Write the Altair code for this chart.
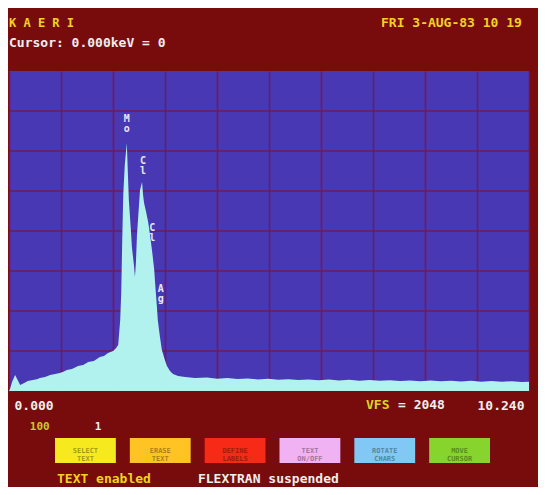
import altair as alt
import pandas as pd

# ---------------- data ----------------
energy_kev = [0.00, 0.02, 0.06, 0.12, 0.16, 0.22, 0.30, 0.37, 0.47, 0.55, 0.61, 0.71, 0.81,
              0.91, 1.00, 1.07, 1.14, 1.24, 1.36, 1.46, 1.56, 1.67, 1.79, 1.87, 1.95,
              2.05, 2.11, 2.15, 2.19, 2.21, 2.23, 2.25, 2.28, 2.32, 2.34, 2.36, 2.40,
              2.42, 2.46, 2.48, 2.50, 2.52, 2.56, 2.58, 2.62, 2.64, 2.66, 2.70, 2.74,
              2.78, 2.82, 2.86, 2.88, 2.91, 2.93, 2.97, 3.01, 3.07, 3.11, 3.17, 3.23,
              3.33, 3.47, 3.66, 3.90, 4.10, 4.30, 4.50, 4.70, 4.90, 5.10, 5.30, 5.50,
              5.70, 5.90, 6.10, 6.30, 6.50, 6.70, 6.90, 7.10, 7.30, 7.50, 7.70, 7.90,
              8.10, 8.30, 8.50, 8.70, 8.90, 9.10, 9.30, 9.50, 9.70, 9.90, 10.10, 10.24]
counts = [0, 13, 58, 102, 77, 38, 51, 64, 70, 76, 83, 90, 102,
          109, 115, 124, 134, 141, 160, 166, 186, 192, 218, 224, 243,
          256, 275, 294, 454, 627, 966, 1254, 1446, 1587, 1402, 1222, 1030,
          922, 806, 730, 826, 998, 1190, 1286, 1338, 1254, 1203, 1146, 1082,
          992, 890, 774, 678, 550, 454, 352, 262, 198, 160, 128, 109,
          96, 90, 83, 86, 78, 84, 77, 80, 74, 79, 72, 76,
          70, 74, 69, 73, 67, 72, 66, 70, 65, 69, 64, 68,
          63, 67, 62, 66, 61, 65, 60, 64, 59, 63, 58, 60]

peak_labels = ["M\no", "C\nl", "C\nl", "A\ng"]
peak_energy = [2.32, 2.64, 2.82, 2.99]
peak_height = [1741, 1472, 1043, 653]

button_names = ["b1", "b2", "b3", "b4", "b5", "b6"]
button_text = ["SELECT\nTEXT", "ERASE\nTEXT", "DEFINE\nLABELS", "TEXT\nON/OFF",
               "ROTATE\nCHARS", "MOVE\nCURSOR"]
button_colors = ["#f6ea1e", "#ffc324", "#f62a16", "#f0b2f2", "#82c8f6", "#86d42c"]

x_grid = [round(i * 1.024, 3) for i in range(11)]
y_grid = list(range(256, 2048, 256))

FONT = "DejaVu Sans Mono"
YELLOW = "#f2d21e"
WHITE = "#eeeeee"
GRID = "#7a1448"

spec = pd.DataFrame({"energy": energy_kev, "counts": counts})
peaks = pd.DataFrame({"label": peak_labels, "energy": peak_energy, "height": peak_height})
buttons = pd.DataFrame({"name": button_names, "text": button_text})
ygrid_df = pd.DataFrame({"level": y_grid})

xs = alt.Scale(domain=[0, 10.24], nice=False, zero=False)
ys = alt.Scale(domain=[0, 2048], nice=False, zero=True)

x_axis = alt.Axis(
    values=x_grid, grid=True, gridColor=GRID, gridWidth=1.6, gridOpacity=0.8,
    ticks=False, domain=False, title=None,
    labelExpr="datum.value < 0.01 ? '0.000' : (datum.value > 10.2 ? '10.240' : '')",
    labelFlush=True, labelFlushOffset=-5, labelOverlap=False,
    labelColor=WHITE, labelFont=FONT, labelFontSize=13, labelFontWeight="bold",
    labelPadding=8)
y_axis = alt.Axis(grid=False, ticks=False, domain=False, labels=False, title=None)

hgrid = alt.Chart(ygrid_df).mark_rule(color=GRID, strokeWidth=1.6, opacity=0.8).encode(
    y=alt.Y("level:Q", scale=ys, axis=y_axis)
)

area = alt.Chart(spec).mark_area(color="#b2f2ee", interpolate="linear").encode(
    x=alt.X("energy:Q", scale=xs, axis=x_axis),
    y=alt.Y("counts:Q", scale=ys, axis=y_axis),
)

peak_text = alt.Chart(peaks).mark_text(
    lineBreak="\n", lineHeight=10, fontSize=10, font=FONT, fontWeight="bold",
    color="#e6e6fa", baseline="middle", align="center"
).encode(x="energy:Q", y="height:Q", text="label:N")


def note(text, x, y, color, size=13, align="left"):
    return alt.Chart(pd.DataFrame({"t": [text]})).mark_text(
        align=align, baseline="middle", color=color, font=FONT,
        fontSize=size, fontWeight="bold"
    ).encode(x=alt.datum(x), y=alt.datum(y), text="t:N")


notes = [
    note("K A E R I", 0.0, 2355, YELLOW, 12),
    note("Cursor: 0.000keV = 0", 0.0, 2227, WHITE, 13),
    note("FRI   3-AUG-83   10 19", 10.10, 2355, YELLOW, 13, "right"),
    note("VFS", 7.03, -90, "#d8d428", 13),
    note("= 2048", 7.66, -90, WHITE, 13),
    note("100", 0.41, -230, "#c8c832", 11),
    note("1", 1.69, -230, WHITE, 11),
    note("TEXT enabled", 0.945, -563, YELLOW, 13),
    note("FLEXTRAN suspended", 3.72, -563, WHITE, 13),
]

spectrum_group = alt.layer(hgrid, area, peak_text, *notes)

bx = alt.X("name:N", sort=button_names,
           scale=alt.Scale(range=[46, 481], paddingInner=0.187, paddingOuter=0),
           axis=None)
btn_rect = alt.Chart(buttons).mark_rect().encode(
    x=bx,
    y=alt.datum(-301), y2=alt.datum(-461),
    color=alt.Color("name:N", scale=alt.Scale(domain=button_names, range=button_colors),
                    legend=None),
)
btn_text = alt.Chart(buttons).mark_text(
    lineBreak="\n", lineHeight=8, fontSize=7, font=FONT, fontWeight="bold",
    color="#000000", opacity=0.35, baseline="middle", align="center"
).encode(x=bx, y=alt.datum(-381), text="text:N")

button_group = alt.layer(btn_rect, btn_text)

chart = alt.layer(spectrum_group, button_group).resolve_scale(
    x="independent"
).properties(
    width=520, height=320,
    autosize=alt.AutoSizeParams(type="none"),
    padding={"left": 1, "top": 63, "right": 9, "bottom": 96},
).configure(
    background="#780c0c"
).configure_view(
    fill="#4838b4", strokeWidth=0
)

chart.save("out.html", embed_options={"renderer": "svg", "actions": False})
